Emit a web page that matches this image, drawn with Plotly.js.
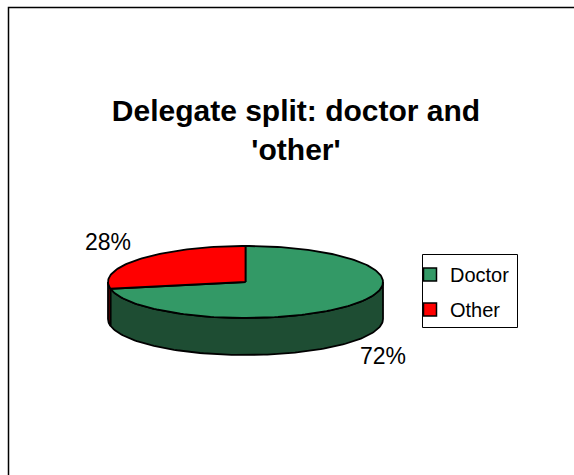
<!DOCTYPE html>
<html>
<head>
<meta charset="utf-8">
<script src="https://cdn.plot.ly/plotly-3.0.1.min.js"></script>
<style>
  html, body { margin: 0; padding: 0; background: #ffffff; }
  #chart { width: 574px; height: 475px; }
</style>
</head>
<body>
<div id="chart"></div>
<script>
// ---- data ----
const categories = ['Doctor', 'Other'];
const values = [72, 28];
const topColors = ['#339966', '#FF0000'];
const sideColors = ['#1E4D33', '#800000'];
const chartTitle = "Delegate split: doctor and<br>'other'";

// ---- 3D pie geometry (pixel-based axes) ----
const cx = 245.5, cy = 282, rx = 137.5, ry = 36, depth = 37;
const total = values.reduce((a, b) => a + b, 0);

function pt(tDeg, dy) {
  const t = tDeg * Math.PI / 180;
  return [cx + rx * Math.sin(t), cy - ry * Math.cos(t) + (dy || 0)];
}
function arc(a0, a1, dy) {
  const xs = [], ys = [];
  const n = Math.max(2, Math.ceil(Math.abs(a1 - a0) / 1.5));
  for (let i = 0; i <= n; i++) {
    const p = pt(a0 + (a1 - a0) * i / n, dy);
    xs.push(p[0]); ys.push(p[1]);
  }
  return [xs, ys];
}

const traces = [];
const slices = [];
let acc = 0;
values.forEach((v) => {
  const a0 = acc / total * 360;
  acc += v;
  const a1 = acc / total * 360;
  slices.push([a0, a1]);
});

// side walls (visible front: 90..270 deg clockwise from top)
slices.forEach(([a0, a1], i) => {
  const s0 = Math.max(a0, 90), s1 = Math.min(a1, 270);
  if (s1 <= s0) return;
  const [tx, ty] = arc(s0, s1, 0);
  const [bx, by] = arc(s1, s0, depth);
  traces.push({
    type: 'scatter', mode: 'lines', fill: 'toself',
    x: tx.concat(bx, [tx[0]]), y: ty.concat(by, [ty[0]]),
    fillcolor: sideColors[i], line: { color: '#000000', width: 1.8 },
    hoverinfo: 'skip', showlegend: false
  });
});

// top faces
slices.forEach(([a0, a1], i) => {
  const [ax, ay] = arc(a0, a1, 0);
  traces.push({
    type: 'scatter', mode: 'lines', fill: 'toself',
    x: [cx].concat(ax, [cx]), y: [cy].concat(ay, [cy]),
    fillcolor: topColors[i], line: { color: '#000000', width: 1.8 },
    name: categories[i], hoverinfo: 'name', showlegend: false
  });
});

// legend entries
categories.forEach((c, i) => {
  traces.push({
    type: 'scatter', mode: 'markers', x: [null], y: [null],
    name: c, legendgroup: c,
    marker: { symbol: 'square', size: 13, color: topColors[i], line: { color: '#000000', width: 1.5 } },
    showlegend: true
  });
});

const pct = values.map(v => Math.round(v / total * 100) + '%');
const fontFam = 'Liberation Sans, Arial, sans-serif';

const layout = {
  width: 574, height: 475,
  margin: { l: 0, r: 0, t: 0, b: 0 },
  paper_bgcolor: '#ffffff', plot_bgcolor: '#ffffff',
  showlegend: true,
  title: {
    text: chartTitle,
    font: { family: fontFam, size: 30, color: '#000000', weight: 'bold' },
    x: 296 / 574, xanchor: 'center',
    y: 1 - 121 / 475, yanchor: 'top'
  },
  xaxis: { range: [0, 574], visible: false, fixedrange: true },
  yaxis: { range: [475, 0], visible: false, fixedrange: true },
  legend: {
    x: 410 / 574, y: 1 - 255 / 475, xanchor: 'left', yanchor: 'top',
    borderwidth: 0, bgcolor: 'rgba(0,0,0,0)',
    font: { family: fontFam, size: 20, color: '#000000' },
    tracegroupgap: 6, itemwidth: 30
  },
  annotations: [
    { x: 107.5, y: 242, xref: 'x', yref: 'y', text: pct[1], showarrow: false,
      font: { family: fontFam, size: 23, color: '#000000' } },
    { x: 383, y: 355.5, xref: 'x', yref: 'y', text: pct[0], showarrow: false,
      font: { family: fontFam, size: 23, color: '#000000' } }
  ],
  shapes: [
    { type: 'rect', xref: 'paper', yref: 'paper',
      x0: 8.5 / 574, x1: 1.05, y0: -0.05, y1: 1 - 7.5 / 475,
      line: { color: '#000000', width: 1.5 }, fillcolor: 'rgba(0,0,0,0)' },
    { type: 'rect', xref: 'paper', yref: 'paper',
      x0: 422.5 / 574, x1: 517.5 / 574, y0: 1 - 327.5 / 475, y1: 1 - 254.5 / 475,
      line: { color: '#000000', width: 1 }, fillcolor: 'rgba(0,0,0,0)' }
  ]
};

Plotly.newPlot('chart', traces, layout, { displayModeBar: false, staticPlot: true });
</script>
</body>
</html>
